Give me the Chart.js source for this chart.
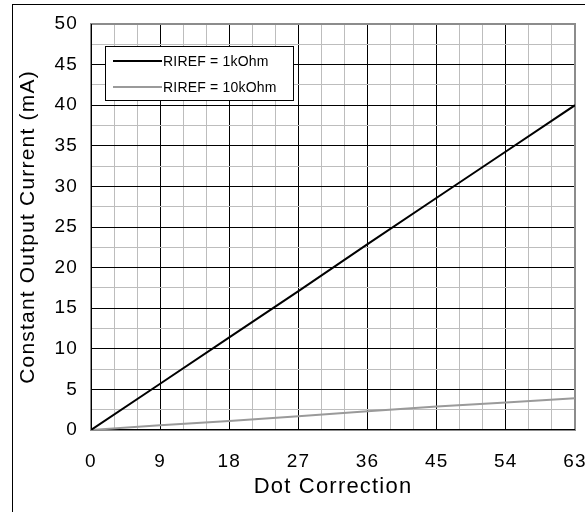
<!DOCTYPE html>
<html>
<head>
<meta charset="utf-8">
<script src="https://cdn.jsdelivr.net/npm/chart.js@4/dist/chart.umd.min.js"></script>
<style>
  html, body { margin: 0; padding: 0; background: #fff; }
  #wrap { width: 585px; height: 512px; position: relative; }
</style>
</head>
<body>
<div id="wrap"><canvas id="chart" width="585" height="512"></canvas></div>
<script>
'use strict';

const dotCorrection = [0, 9, 18, 27, 36, 45, 54, 63];
const current1k = [0, 5.7, 11.4, 17.1, 22.9, 28.6, 34.3, 40];
const current10k = [0, 0.6, 1.1, 1.7, 2.3, 2.9, 3.4, 3.9];
const xTickLabels = [0, 9, 18, 27, 36, 45, 54, 63];
const yTickLabels = [0, 5, 10, 15, 20, 25, 30, 35, 40, 45, 50];
const seriesNames = ['RIREF = 1kOhm', 'RIREF = 10kOhm'];

const FONT = "'Liberation Sans', Arial, sans-serif";
const MINOR = '#bdbdbd';

// text in the picture is drawn a bit wide
const spacing = {
  id: 'spacing',
  beforeDraw(chart) { chart.ctx.letterSpacing = '1.2px'; }
};

// outer frame of the figure, runs off the right and bottom edges
const outerFrame = {
  id: 'outerFrame',
  beforeDraw(chart) {
    const ctx = chart.ctx;
    ctx.save();
    ctx.strokeStyle = '#000';
    ctx.lineWidth = 1;
    ctx.strokeRect(12.5, 4.5, 700, 700);
    ctx.restore();
  }
};

// grey plot frame over the grid, dark left and bottom axis
const plotFrame = {
  id: 'plotFrame',
  beforeDatasetsDraw(chart) {
    const a = chart.chartArea, ctx = chart.ctx;
    ctx.save();
    ctx.strokeStyle = '#8c8c8c';
    ctx.lineWidth = 2;
    ctx.strokeRect(a.left, a.top, a.right - a.left, a.bottom - a.top);
    ctx.strokeStyle = '#000';
    ctx.lineWidth = 1;
    ctx.beginPath();
    ctx.moveTo(a.left + 0.5, a.top);
    ctx.lineTo(a.left + 0.5, a.bottom - 0.5);
    ctx.lineTo(a.right, a.bottom - 0.5);
    ctx.stroke();
    ctx.restore();
  }
};

// boxed legend inside the plot, top left
const boxLegend = {
  id: 'boxLegend',
  afterDraw(chart) {
    const ctx = chart.ctx;
    const x = 105, y = 46, w = 188, h = 54;
    ctx.save();
    ctx.letterSpacing = '0.2px';
    ctx.fillStyle = '#fff';
    ctx.fillRect(x, y, w, h);
    ctx.strokeStyle = '#000';
    ctx.lineWidth = 1;
    ctx.strokeRect(x + 0.5, y + 0.5, w, h);
    chart.data.datasets.forEach((ds, i) => {
      const ly = y + 15 + i * 26;
      ctx.strokeStyle = ds.borderColor;
      ctx.lineWidth = 2;
      ctx.beginPath();
      ctx.moveTo(x + 8, ly);
      ctx.lineTo(x + 57, ly);
      ctx.stroke();
      ctx.fillStyle = '#000';
      ctx.font = '14px ' + FONT;
      ctx.textBaseline = 'middle';
      ctx.textAlign = 'left';
      ctx.fillText(ds.label, x + 58, ly + 1);
    });
    ctx.restore();
  }
};

const toPoints = values => dotCorrection.map((d, i) => ({ x: d, y: values[i] }));

new Chart(document.getElementById('chart'), {
  type: 'line',
  plugins: [spacing, outerFrame, plotFrame, boxLegend],
  data: {
    datasets: [
      { label: seriesNames[0], data: toPoints(current1k), borderColor: '#000', borderWidth: 2, pointRadius: 0, tension: 0 },
      { label: seriesNames[1], data: toPoints(current10k), borderColor: '#9a9a9a', borderWidth: 2, pointRadius: 0, tension: 0 }
    ]
  },
  options: {
    responsive: false,
    animation: false,
    events: [],
    layout: { padding: { left: 0, right: 10, top: 24, bottom: 0 } },
    plugins: { legend: { display: false }, tooltip: { enabled: false } },
    scales: {
      x: {
        type: 'linear',
        min: 0, max: 63,
        border: { display: false },
        grid: {
          drawTicks: false,
          color: c => xTickLabels.includes(c.tick.value) ? '#000' : MINOR
        },
        ticks: {
          stepSize: 3, autoSkip: false, maxRotation: 0, padding: 20,
          color: '#000', font: { family: FONT, size: 19 },
          callback: v => xTickLabels.includes(v) ? String(v) : ''
        },
        title: {
          display: true, text: 'Dot Correction', color: '#000',
          font: { family: FONT, size: 22 }, padding: { top: 0, bottom: 12 }
        },
        afterFit: s => { s.height = 82; s.paddingLeft = 0; s.paddingRight = 0; }
      },
      y: {
        min: 0, max: 50,
        border: { display: false },
        grid: {
          drawTicks: false,
          color: c => yTickLabels.includes(c.tick.value) ? '#000' : MINOR
        },
        ticks: {
          stepSize: 2.5, autoSkip: false, padding: 13,
          color: '#000', font: { family: FONT, size: 19 },
          callback: v => yTickLabels.includes(v) ? String(v) : ''
        },
        title: {
          display: true, text: 'Constant Output Current (mA)', color: '#000',
          font: { family: FONT, size: 21 }, padding: { top: 16, bottom: 0 }
        },
        afterFit: s => { s.width = 91; s.paddingTop = 0; s.paddingBottom = 0; }
      }
    }
  }
});
</script>
</body>
</html>
